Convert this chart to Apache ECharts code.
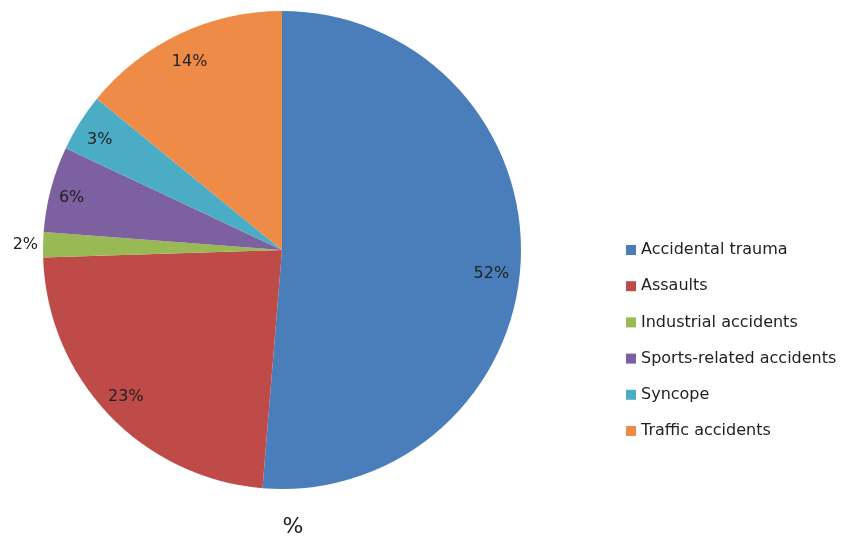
<!DOCTYPE html>
<html><head><meta charset="utf-8">
<script src="https://cdn.jsdelivr.net/npm/echarts@6/dist/echarts.min.js"></script>
<style>html,body{margin:0;padding:0;background:#fff}#c{width:843px;height:539px}</style>
</head><body><div id="c"></div>
<script>
const categories = ['Accidental trauma','Assaults','Industrial accidents','Sports-related accidents','Syncope','Traffic accidents'];
// slice shares as measured from the slice angles in the picture
const values = [51.3, 23.2, 1.7, 5.8, 3.9, 14.1];
// percentage labels as printed on the chart
const labelTexts = ['52%','23%','2%','6%','3%','14%'];
const colors = ['#4A7EBB','#BE4B48','#98B954','#7D60A0','#4BACC6','#EE8B47'];

const chart = echarts.init(document.getElementById('c'), null, {renderer:'canvas'});
const font = 'DejaVu Sans';
const fmt = p => labelTexts[p.dataIndex];
// label style tweaks (placement only)
const outsideLabel = [false, false, true, false, false, false];
const labelShift = [[-6,15],[0,-2],[0,0],[-2,3],[0,5],[0,7]];
const mainData = categories.map((n,i)=>({
  name:n, value:values[i], itemStyle:{color:colors[i]},
  label:{show: outsideLabel[i], offset:[4,0]}
}));
const ringData = categories.map((n,i)=>({
  name:n, value:values[i], itemStyle:{color:'rgba(0,0,0,0)'},
  label:{show: !outsideLabel[i], offset: labelShift[i]}
}));
chart.setOption({
  animation:false,
  title:{text:'%', left:288, top:511, textAlign:'center', textStyle:{fontFamily:font, fontSize:22, fontWeight:'normal', color:'#222'}},
  legend:{
    orient:'vertical', left:621, top:237,
    data:categories,
    icon:'rect', itemWidth:10, itemHeight:10, itemGap:20.2,
    textStyle:{fontFamily:font, fontSize:16, color:'#222', lineHeight:16}
  },
  series:[
    {type:'pie', center:[282,250], radius:[0,239], startAngle:90, clockwise:true, silent:true,
     data:mainData,
     label:{position:'outside', formatter:fmt, fontFamily:font, fontSize:16, color:'#222', overflow:'none'},
     labelLine:{show:false, length:4, length2:0}},
    {type:'pie', center:[282,250], radius:[186,239], startAngle:90, clockwise:true, silent:true,
     legendHoverLink:false, data:ringData,
     label:{position:'inside', formatter:fmt, fontFamily:font, fontSize:16, color:'#222'},
     labelLine:{show:false}}
  ]
});
</script></body></html>
